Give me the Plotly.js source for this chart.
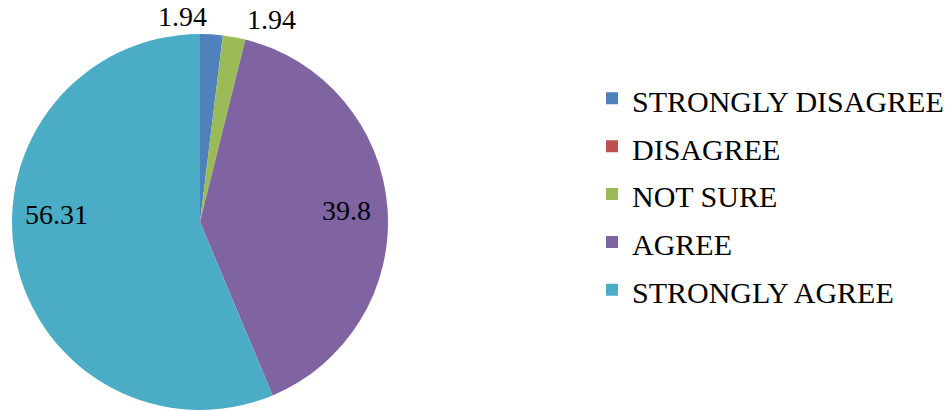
<!DOCTYPE html>
<html>
<head>
<meta charset="utf-8">
<script src="https://cdn.plot.ly/plotly-3.0.1.min.js"></script>
<style>html,body{margin:0;padding:0;background:#fff;}#chart{width:951px;height:411px;}</style>
</head>
<body>
<div id="chart"></div>
<script>
const categories = ["STRONGLY DISAGREE", "DISAGREE", "NOT SURE", "AGREE", "STRONGLY AGREE"];
const values = [1.94, 0, 1.94, 39.8, 56.31];
const colors = ["#4F81BD", "#C0504D", "#9BBB59", "#8064A2", "#4BACC6"];

const W = 951, H = 411;
const FONT = "'Liberation Serif', 'Times New Roman', Times, serif";
// pie geometry (pixels)
const pieLeft = 12, pieRight = 388, pieTop = 34, pieBottom = 410;
const cx = (pieLeft + pieRight) / 2, cy = (pieTop + pieBottom) / 2, R = (pieRight - pieLeft) / 2;

const trace = {
  type: "pie",
  labels: categories.map(c => '<span style="font-size:30px">' + c + '</span>'),
  values: values,
  textinfo: "none",
  sort: false,
  direction: "clockwise",
  rotation: 0,
  marker: {colors: colors, line: {color: "#ffffff", width: 0}},
  automargin: false,
  domain: {x: [pieLeft / W, pieRight / W], y: [1 - pieBottom / H, 1 - pieTop / H]},
  hoverinfo: "none"
};

// data labels, positioned from the slice angles
const total = values.reduce((a, b) => a + b, 0);
const annotations = [];
let cum = 0, smallCount = 0;
values.forEach((v, i) => {
  const start = cum; cum += v;
  if (v <= 0) return;
  const mid = (start + v / 2) / total * 2 * Math.PI;
  const big = v > 10;
  const rr = big ? 0.78 * R : R + 18;
  const px = cx + rr * Math.sin(mid);
  let py = cy - rr * Math.cos(mid);
  let xanchor = "center", xshift = 0;
  if (!big) {
    xanchor = (smallCount % 2 === 0) ? "right" : "left";
    xshift = (smallCount % 2 === 0) ? -4 : 8;
    smallCount++;
  }
  if (big && Math.sin(mid) < 0) py -= 36;
  annotations.push({
    x: px / W, y: 1 - py / H, xref: "paper", yref: "paper",
    text: String(v), showarrow: false, xanchor: xanchor, yanchor: "middle", xshift: xshift,
    font: {family: FONT, size: 28, color: "#000"}
  });
});

const layout = {
  width: W, height: H,
  margin: {l: 0, r: 0, t: 0, b: 0},
  paper_bgcolor: "#fff",
  showlegend: true,
  annotations: annotations,
  legend: {
    x: 0.6225, y: 0.527, xanchor: "left", yanchor: "middle",
    font: {family: FONT, size: 34.5, color: "#000"},
    itemwidth: 30, tracegroupgap: 0
  }
};

Plotly.newPlot("chart", [trace], layout, {staticPlot: true});
</script>
</body>
</html>
